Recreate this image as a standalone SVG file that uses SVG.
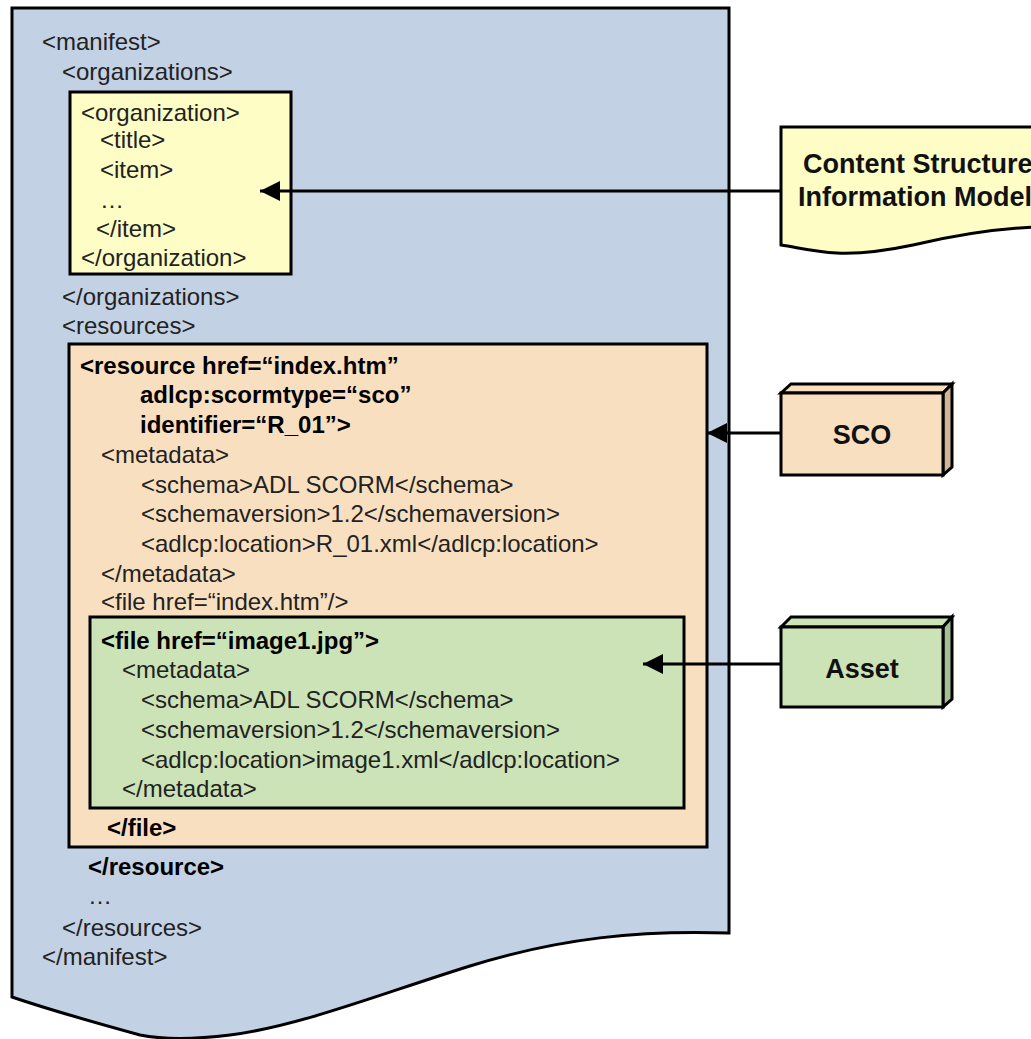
<svg xmlns="http://www.w3.org/2000/svg" width="1031" height="1039" viewBox="0 0 1031 1039">
<style>
text{font-family:"Liberation Sans",Arial,sans-serif;font-size:24px;fill:#222}
.b{font-weight:bold;fill:#000}
.lbl{font-weight:bold;font-size:27px;fill:#111}
.edge{stroke:#000;stroke-width:3;fill:none}
.box{stroke:#000;stroke-width:3}
</style>
<defs>
<marker id="ah" markerWidth="20" markerHeight="20" viewBox="0 0 20 20" refX="20" refY="10" orient="auto" markerUnits="userSpaceOnUse">
<path d="M20,10 L0,0 L0,20 Z" fill="#000"/>
</marker>
</defs>
<rect width="1031" height="1039" fill="#fff"/>

<g id="manifest">
<path class="box" fill="#c3d1e4" d="M12,8 H729 V933 C640,930 560,938 470,966 C380,994 300,1026 230,1035 C190,1040 160,1039 140,1035 C100,1024 50,1010 12,997 Z"/>
<text x="42" y="50">&lt;manifest&gt;</text>
<text x="62" y="80">&lt;organizations&gt;</text>
<text x="62" y="305">&lt;/organizations&gt;</text>
<text x="62" y="334">&lt;resources&gt;</text>
<text x="88" y="875" class="b">&lt;/resource&gt;</text>
<text x="88" y="904">…</text>
<text x="62" y="936">&lt;/resources&gt;</text>
<text x="42" y="965">&lt;/manifest&gt;</text>
</g>

<g id="organization">
<rect class="box" x="70" y="92" width="221" height="182" fill="#fdfdc5"/>
<text x="81" y="121">&lt;organization&gt;</text>
<text x="100" y="148">&lt;title&gt;</text>
<text x="100" y="178">&lt;item&gt;</text>
<text x="100" y="208">…</text>
<text x="96" y="237">&lt;/item&gt;</text>
<text x="81" y="266">&lt;/organization&gt;</text>
</g>

<g id="resource">
<rect class="box" x="69" y="344" width="638" height="503" fill="#f8dfc0"/>
<text x="80" y="374" class="b">&lt;resource href=“index.htm”</text>
<text x="140" y="403" class="b">adlcp:scormtype=“sco”</text>
<text x="140" y="433" class="b">identifier=“R_01”&gt;</text>
<text x="101" y="463">&lt;metadata&gt;</text>
<text x="141" y="493">&lt;schema&gt;ADL SCORM&lt;/schema&gt;</text>
<text x="141" y="522">&lt;schemaversion&gt;1.2&lt;/schemaversion&gt;</text>
<text x="141" y="552">&lt;adlcp:location&gt;R_01.xml&lt;/adlcp:location&gt;</text>
<text x="101" y="582">&lt;/metadata&gt;</text>
<text x="101" y="610">&lt;file href=“index.htm”/&gt;</text>
<text x="107" y="836" class="b">&lt;/file&gt;</text>
</g>

<g id="file">
<rect class="box" x="90" y="617" width="594" height="191" fill="#cbe3b7"/>
<text x="101" y="649" class="b">&lt;file href=“image1.jpg”&gt;</text>
<text x="122" y="678">&lt;metadata&gt;</text>
<text x="141" y="708">&lt;schema&gt;ADL SCORM&lt;/schema&gt;</text>
<text x="141" y="738">&lt;schemaversion&gt;1.2&lt;/schemaversion&gt;</text>
<text x="141" y="768">&lt;adlcp:location&gt;image1.xml&lt;/adlcp:location&gt;</text>
<text x="122" y="797">&lt;/metadata&gt;</text>
</g>

<g id="content-structure">
<path class="box" fill="#fdfdc5" d="M781,127 H1040 V227 C1000,228 960,234 913,245 C880,252 860,254 837,253 C815,252 800,248 781,245 Z"/>
<text x="803" y="173" class="lbl">Content Structure</text>
<text x="798" y="206" class="lbl">Information Model</text>
</g>

<g id="sco">
<path class="box" fill="#f8dfc0" d="M781,393 L791,384 H952 L943,393 Z"/>
<path class="box" fill="#cfb697" d="M943,393 L952,384 V467 L943,475 Z"/>
<rect class="box" x="781" y="393" width="162" height="82" fill="#f8dfc0"/>
<text x="862" y="444" class="lbl" text-anchor="middle">SCO</text>
</g>

<g id="asset">
<path class="box" fill="#cbe3b7" d="M781,627 L791,617 H952 L943,627 Z"/>
<path class="box" fill="#a4bf93" d="M943,627 L952,617 V699 L943,707 Z"/>
<rect class="box" x="781" y="627" width="162" height="80" fill="#cbe3b7"/>
<text x="862" y="678" class="lbl" text-anchor="middle">Asset</text>
</g>

<g id="connectors">
<line class="edge" x1="781" y1="191" x2="260" y2="191" marker-end="url(#ah)"/>
<line class="edge" x1="781" y1="433" x2="707" y2="433" marker-end="url(#ah)"/>
<line class="edge" x1="781" y1="664" x2="643" y2="664" marker-end="url(#ah)"/>
</g>
</svg>
